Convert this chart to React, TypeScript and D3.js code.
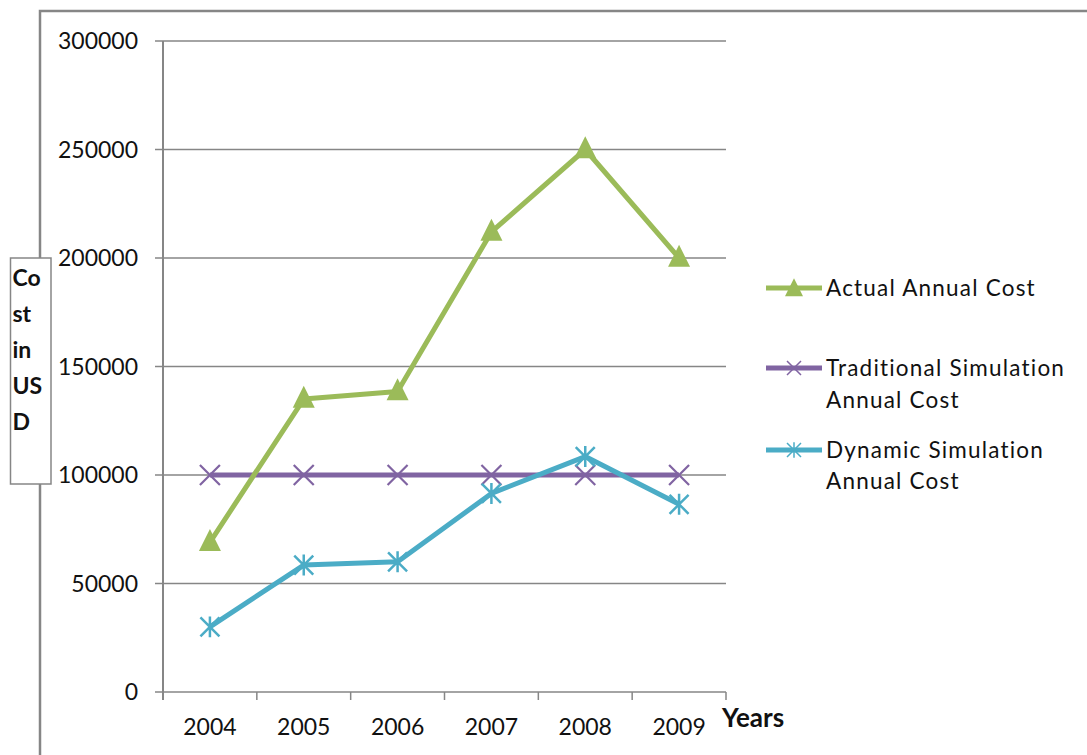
import React from "react";
import * as d3 from "d3";

const years = ["2004", "2005", "2006", "2007", "2008", "2009"];
const actualCost = [69000, 135000, 138500, 212000, 250000, 200000];
const traditionalCost = [100000, 100000, 100000, 100000, 100000, 100000];
const dynamicCost = [30000, 58500, 60000, 91500, 108500, 86500];
const yTicks = [0, 50000, 100000, 150000, 200000, 250000, 300000];
const yTitleLines = ["Co", "st", "in", "US", "D"];

const seriesNames = [
  ["Actual Annual Cost"],
  ["Traditional Simulation", "Annual Cost"],
  ["Dynamic Simulation", "Annual Cost"],
];

const GREEN = "#9BBB59";
const PURPLE = "#8064A2";
const TEAL = "#4BACC6";
const GRID = "#868686";
const FONT = "Lato, 'Open Sans', sans-serif";

const W = 1087;
const H = 755;
const plot = { left: 163, right: 726, top: 41, bottom: 692 };

function Triangle({ x, y, s }: { x: number; y: number; s: number }) {
  const h = s;
  return (
    <path
      d={`M${x},${y - h * 0.6}L${x + s / 2},${y + h * 0.4}L${x - s / 2},${y + h * 0.4}Z`}
      fill={GREEN}
    />
  );
}

function Cross({ x, y, s, color, w }: { x: number; y: number; s: number; color: string; w: number }) {
  const r = s / 2;
  return (
    <path
      d={`M${x - r},${y - r}L${x + r},${y + r}M${x - r},${y + r}L${x + r},${y - r}`}
      stroke={color}
      strokeWidth={w}
      fill="none"
    />
  );
}

function Star({ x, y, s, w }: { x: number; y: number; s: number; w: number }) {
  const r = s / 2;
  return (
    <path
      d={`M${x - r},${y - r}L${x + r},${y + r}M${x - r},${y + r}L${x + r},${y - r}M${x},${y - r * 1.1}L${x},${y + r * 1.1}`}
      stroke={TEAL}
      strokeWidth={w}
      fill="none"
    />
  );
}

export default function App() {
  const x = d3.scaleBand<string>().domain(years).range([plot.left, plot.right]);
  const y = d3.scaleLinear().domain([0, 300000]).range([plot.bottom, plot.top]);
  const cx = (yr: string) => (x(yr) as number) + x.bandwidth() / 2;

  const line = d3
    .line<number>()
    .x((_, i) => cx(years[i]))
    .y((d) => y(d));

  const boundaries = [...years.map((yr) => x(yr) as number), plot.right];
  const legendText = { fontSize: 22.5, letterSpacing: 1.2, fill: "#111" };

  return (
    <svg
      width={W}
      height={H}
      style={{ position: "absolute", left: 0, top: 0, background: "#fff" }}
      fontFamily={FONT}
    >
      <rect x={0} y={0} width={W} height={H} fill="#fff" />
      {/* chart area frame */}
      <rect x={40} y={11} width={W + 20} height={H + 20} fill="none" stroke={GRID} strokeWidth={2.5} />

      {/* gridlines and y ticks */}
      {yTicks.map((t) => (
        <g key={t}>
          <line x1={plot.left - 8} x2={plot.right} y1={y(t)} y2={y(t)} stroke={GRID} strokeWidth={1.5} />
          <text x={138} y={y(t)} dy="0.36em" textAnchor="end" fontSize={23} fill="#111">
            {t}
          </text>
        </g>
      ))}

      {/* y axis */}
      <line x1={plot.left} x2={plot.left} y1={plot.top} y2={plot.bottom + 8} stroke={GRID} strokeWidth={2} />
      {/* x axis ticks */}
      {boundaries.map((b, i) => (
        <line key={i} x1={b} x2={b} y1={plot.bottom} y2={plot.bottom + 8} stroke={GRID} strokeWidth={1.5} />
      ))}
      {years.map((yr) => (
        <text key={yr} x={cx(yr)} y={735} textAnchor="middle" fontSize={23} fill="#111">
          {yr}
        </text>
      ))}
      <text x={722} y={727} fontSize={26} fontWeight="bold" fill="#111">
        Years
      </text>

      {/* series lines */}
      <path d={line(traditionalCost) as string} fill="none" stroke={PURPLE} strokeWidth={5} />
      <path d={line(dynamicCost) as string} fill="none" stroke={TEAL} strokeWidth={5} strokeLinejoin="round" />
      <path d={line(actualCost) as string} fill="none" stroke={GREEN} strokeWidth={5} strokeLinejoin="round" />

      {/* markers */}
      {traditionalCost.map((v, i) => (
        <Cross key={"t" + i} x={cx(years[i])} y={y(v)} s={20} color={PURPLE} w={2.2} />
      ))}
      {dynamicCost.map((v, i) => (
        <Star key={"d" + i} x={cx(years[i])} y={y(v)} s={19} w={2.5} />
      ))}
      {actualCost.map((v, i) => (
        <Triangle key={"a" + i} x={cx(years[i])} y={y(v)} s={22} />
      ))}

      {/* legend */}
      <g>
        <line x1={766} x2={822} y1={288} y2={288} stroke={GREEN} strokeWidth={5} />
        <Triangle x={794} y={289} s={18} />
        <text x={826} y={288} dy="0.36em" {...legendText}>
          {seriesNames[0][0]}
        </text>

        <line x1={766} x2={822} y1={368} y2={368} stroke={PURPLE} strokeWidth={5} />
        <Cross x={794} y={368} s={14} color={PURPLE} w={1.5} />
        {seriesNames[1].map((s, i) => (
          <text key={s} x={826} y={368 + i * 32} dy="0.36em" {...legendText}>
            {s}
          </text>
        ))}

        <line x1={766} x2={822} y1={450} y2={450} stroke={TEAL} strokeWidth={5} />
        <Star x={794} y={450} s={14} w={1.5} />
        {seriesNames[2].map((s, i) => (
          <text key={s} x={826} y={450 + i * 31} dy="0.36em" {...legendText}>
            {s}
          </text>
        ))}
      </g>

      {/* y axis title box */}
      <rect x={10.5} y={258} width={40.5} height={226} fill="#fff" stroke={GRID} strokeWidth={1.5} />
      {yTitleLines.map((s, i) => (
        <text key={s} x={12.5} y={278 + i * 36} dy="0.36em" fontSize={23} fontWeight="bold" fill="#111">
          {s}
        </text>
      ))}
    </svg>
  );
}
